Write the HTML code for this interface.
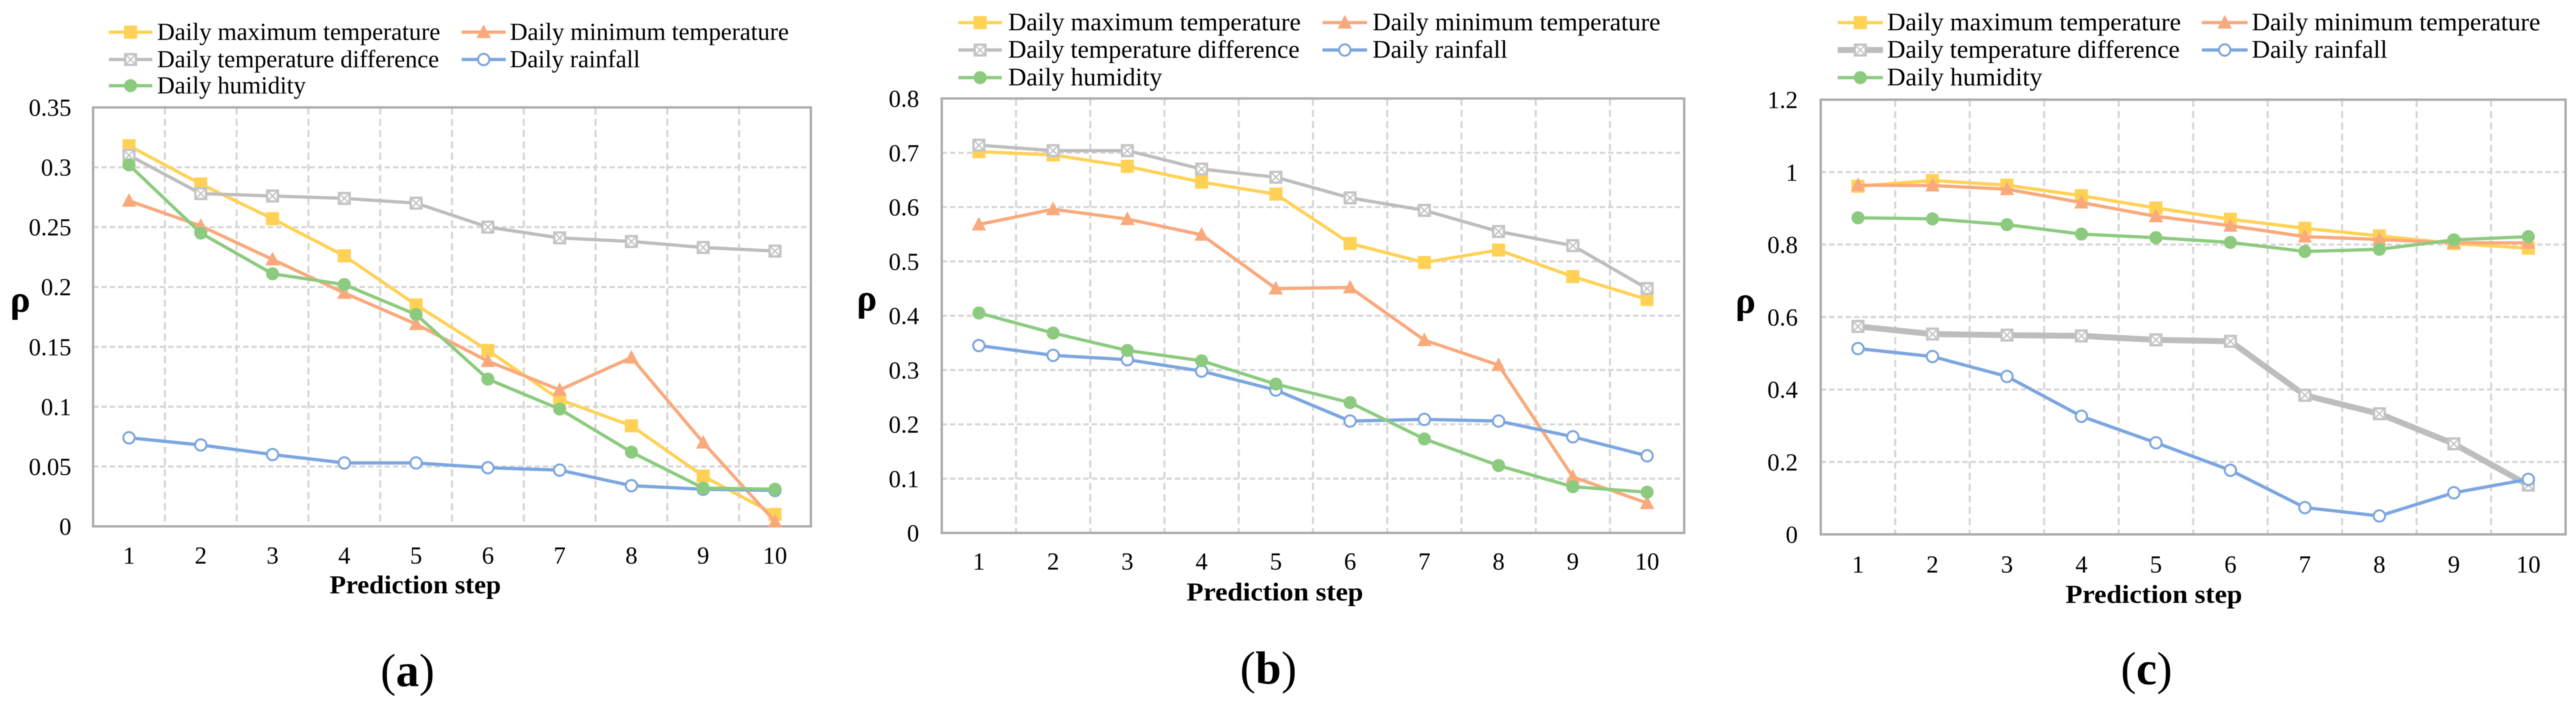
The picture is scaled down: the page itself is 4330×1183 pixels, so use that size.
<!DOCTYPE html>
<html>
<head>
<meta charset="utf-8">
<title>Prediction step correlation charts</title>
<style>
html,body{margin:0;padding:0;background:#fff;}
svg{display:block;}
text{font-family:"Liberation Serif",serif;fill:#000;}
</style>
</head>
<body>
<svg id="figure" xmlns="http://www.w3.org/2000/svg" width="4330" height="1183" viewBox="0 0 4330 1183">
<defs>
<filter id="soft" x="-2%" y="-2%" width="104%" height="104%"><feGaussianBlur stdDeviation="0.9"/></filter>
</defs>
<rect width="4330" height="1183" fill="#ffffff"/>
<g id="root" filter="url(#soft)"></g>
</svg>
<script>
const categories = [1, 2, 3, 4, 5, 6, 7, 8, 9, 10];
const seriesNames = ["Daily maximum temperature", "Daily minimum temperature", "Daily temperature difference", "Daily rainfall", "Daily humidity"];

const ticksA = [0, 0.05, 0.1, 0.15, 0.2, 0.25, 0.3, 0.35];
const ticksB = [0, 0.1, 0.2, 0.3, 0.4, 0.5, 0.6, 0.7, 0.8];
const ticksC = [0, 0.2, 0.4, 0.6, 0.8, 1, 1.2];

const maxTempA = [0.318, 0.286, 0.257, 0.226, 0.185, 0.147, 0.106, 0.084, 0.042, 0.01];
const minTempA = [0.272, 0.251, 0.223, 0.195, 0.169, 0.138, 0.114, 0.141, 0.07, 0.004];
const tempDiffA = [0.31, 0.278, 0.276, 0.274, 0.27, 0.25, 0.241, 0.238, 0.233, 0.23];
const rainfallA = [0.074, 0.068, 0.06, 0.053, 0.053, 0.049, 0.047, 0.034, 0.031, 0.03];
const humidityA = [0.302, 0.245, 0.211, 0.202, 0.177, 0.123, 0.098, 0.062, 0.032, 0.031];

const maxTempB = [0.702, 0.696, 0.675, 0.646, 0.624, 0.533, 0.498, 0.521, 0.472, 0.43];
const minTempB = [0.568, 0.596, 0.578, 0.549, 0.45, 0.452, 0.355, 0.309, 0.103, 0.055];
const tempDiffB = [0.714, 0.704, 0.704, 0.67, 0.655, 0.617, 0.594, 0.555, 0.529, 0.45];
const rainfallB = [0.345, 0.327, 0.319, 0.298, 0.263, 0.206, 0.209, 0.206, 0.177, 0.142];
const humidityB = [0.405, 0.368, 0.336, 0.317, 0.274, 0.24, 0.173, 0.124, 0.085, 0.075];

const maxTempC = [0.961, 0.977, 0.964, 0.935, 0.901, 0.87, 0.845, 0.824, 0.803, 0.79];
const minTempC = [0.964, 0.963, 0.953, 0.916, 0.878, 0.852, 0.822, 0.814, 0.805, 0.805];
const tempDiffC = [0.574, 0.553, 0.55, 0.548, 0.537, 0.533, 0.384, 0.333, 0.25, 0.136];
const rainfallC = [0.513, 0.491, 0.436, 0.326, 0.253, 0.177, 0.074, 0.051, 0.115, 0.152];
const humidityC = [0.874, 0.871, 0.855, 0.829, 0.819, 0.806, 0.781, 0.787, 0.813, 0.822];

const NS = "http://www.w3.org/2000/svg";
const root = document.getElementById("root");
const colors = ["#FFD257", "#F9A97C", "#BDBDBD", "#7CA6DF", "#8CCB7F"];
const keys = ["max", "min", "diff", "rain", "hum"];

function mk(parent, tag, attrs, txt) {
  const el = document.createElementNS(NS, tag);
  for (const k in attrs) el.setAttribute(k, attrs[k]);
  if (txt !== undefined) el.textContent = txt;
  parent.appendChild(el);
  return el;
}

function marker(parent, kind, cx, cy) {
  const g = mk(parent, "g", {});
  const c = colors[keys.indexOf(kind)];
  if (kind === "max") {
    mk(g, "rect", {x: cx - 11, y: cy - 11, width: 22, height: 22, fill: c});
  } else if (kind === "min") {
    mk(g, "polygon", {points: (cx) + "," + (cy - 13) + " " + (cx + 12) + "," + (cy + 10) + " " + (cx - 12) + "," + (cy + 10), fill: c});
  } else if (kind === "diff") {
    mk(g, "rect", {x: cx - 9, y: cy - 9, width: 18, height: 18, fill: "#ffffff", stroke: "#C4C4C4", "stroke-width": 4});
    mk(g, "path", {d: "M" + (cx - 7) + " " + (cy - 7) + "L" + (cx + 7) + " " + (cy + 7) + "M" + (cx + 7) + " " + (cy - 7) + "L" + (cx - 7) + " " + (cy + 7), stroke: "#C4C4C4", "stroke-width": 2.5, fill: "none"});
  } else if (kind === "rain") {
    mk(g, "circle", {cx: cx, cy: cy, r: 9.5, fill: "#ffffff", stroke: c, "stroke-width": 3.5});
  } else {
    mk(g, "circle", {cx: cx, cy: cy, r: 11, fill: c});
  }
  return g;
}

function drawPanel(p) {
  const panel = mk(root, "g", {});
  
  
  const w = p.right - p.left;
  const yMax = p.ticks[p.ticks.length - 1];
  const xPos = i => p.left + (i + 0.5) * w / categories.length;
  const yPos = v => p.bottom - (v / yMax) * (p.bottom - p.top);

  const grid = mk(panel, "g", {});
  
  
  p.ticks.forEach(t => {
    if (t === 0 || t === yMax) return;
    mk(grid, "line", {x1: p.left, x2: p.right, y1: yPos(t), y2: yPos(t), stroke: "#D6D6D6", "stroke-width": 3.5, "stroke-dasharray": "9 5"});
  });
  for (let i = 1; i < categories.length; i++) {
    const gx = p.left + i * w / categories.length;
    mk(grid, "line", {x1: gx, x2: gx, y1: p.top, y2: p.bottom, stroke: "#D6D6D6", "stroke-width": 3.5, "stroke-dasharray": "12 7"});
  }

  const frame = mk(panel, "rect", {x: p.left, y: p.top, width: w, height: p.bottom - p.top, fill: "none", stroke: "#AFABAB", "stroke-width": 4});
  
  

  p.ticks.forEach(t => {
    const lab = mk(panel, "text", {x: p.tickRight, y: yPos(t) + 14, "text-anchor": "end", "font-size": 41}, String(t));
    
    
  });
  categories.forEach((c, i) => {
    const lab = mk(panel, "text", {x: xPos(i), y: p.xLabelY + 14, "text-anchor": "middle", "font-size": 41}, String(c));
    
    
  });

  p.series.forEach((vals, s) => {
    const kind = keys[s];
    const g = mk(panel, "g", {});
    
    
    const sw = (kind === "diff") ? p.diffWidth : 5.5;
    const pts = vals.map((v, i) => xPos(i) + "," + yPos(v)).join(" ");
    mk(g, "polyline", {points: pts, fill: "none", stroke: colors[s], "stroke-width": sw, "stroke-linejoin": "round"});
    vals.forEach((v, i) => {
      const m = marker(g, kind, xPos(i), yPos(v));
      
      
    });
  });

  const yTitle = mk(panel, "text", {x: p.rhoX, y: p.rhoY + 9, "text-anchor": "middle", "font-size": 64, "font-weight": "bold"}, "ρ");
  
  

  const xTitle = mk(panel, "text", {x: p.titleX, y: p.titleY + 13, "text-anchor": "middle", "font-size": 43, "font-weight": "bold", textLength: p.titleW, lengthAdjust: "spacingAndGlyphs"}, "Prediction step");
  
  

  const cap = mk(panel, "text", {x: p.capX, y: p.capY + 21, "text-anchor": "middle", "font-size": 78});
  
  
  mk(cap, "tspan", {}, "(");
  mk(cap, "tspan", {"font-weight": "bold"}, p.id);
  mk(cap, "tspan", {}, ")");

  const slots = [[0, 0], [1, 0], [0, 1], [1, 1], [0, 2]];
  const legend = mk(panel, "g", {});
  
  
  seriesNames.forEach((name, s) => {
    const col = p.legendCols[slots[s][0]];
    const ly = p.legendRows[slots[s][1]];
    const entry = mk(legend, "g", {});
    
    
    const sw = (keys[s] === "diff") ? p.diffWidth : 5.5;
    mk(entry, "line", {x1: col.x1, x2: col.x2, y1: ly, y2: ly, stroke: colors[s], "stroke-width": sw});
    marker(entry, keys[s], (col.x1 + col.x2) / 2, ly);
    mk(entry, "text", {x: col.tx, y: ly + 13, "font-size": p.legendFont, textLength: p.legendW[s], lengthAdjust: "spacingAndGlyphs"}, name);
  });
}

drawPanel({
  id: "a", left: 156.5, right: 1363, top: 180.5, bottom: 884.5, ticks: ticksA,
  series: [maxTempA, minTempA, tempDiffA, rainfallA, humidityA],
  tickRight: 120, xLabelY: 933, rhoX: 34, rhoY: 515, titleX: 698, titleY: 984, titleW: 288,
  capX: 685, capY: 1132, diffWidth: 5.5, legendFont: 41,
  legendCols: [{x1: 183, x2: 256, tx: 264}, {x1: 776, x2: 850, tx: 857}],
  legendRows: [54, 100, 144], legendW: [476, 469, 474, 219, 250]
});
drawPanel({
  id: "b", left: 1583, right: 2831, top: 165.5, bottom: 895.5, ticks: ticksB,
  series: [maxTempB, minTempB, tempDiffB, rainfallB, humidityB],
  tickRight: 1545, xLabelY: 943, rhoX: 1457, rhoY: 513, titleX: 2143, titleY: 996, titleW: 297,
  capX: 2132, capY: 1128, diffWidth: 5.5, legendFont: 42.5,
  legendCols: [{x1: 1611, x2: 1684, tx: 1694.5}, {x1: 2223, x2: 2298, tx: 2307}],
  legendRows: [38, 84, 130.5], legendW: [492, 484, 490, 227, 259]
});
drawPanel({
  id: "c", left: 3060.5, right: 4312.5, top: 167.5, bottom: 898, ticks: ticksC,
  series: [maxTempC, minTempC, tempDiffC, rainfallC, humidityC],
  tickRight: 3022, xLabelY: 948, rhoX: 2934, rhoY: 517, titleX: 3620.5, titleY: 1000, titleW: 297,
  capX: 3608, capY: 1129, diffWidth: 10, legendFont: 42.5,
  legendCols: [{x1: 3089, x2: 3165, tx: 3172}, {x1: 3701, x2: 3778, tx: 3785}],
  legendRows: [38, 84, 130.5], legendW: [494, 485, 492, 228, 261]
});
</script>
</body>
</html>
